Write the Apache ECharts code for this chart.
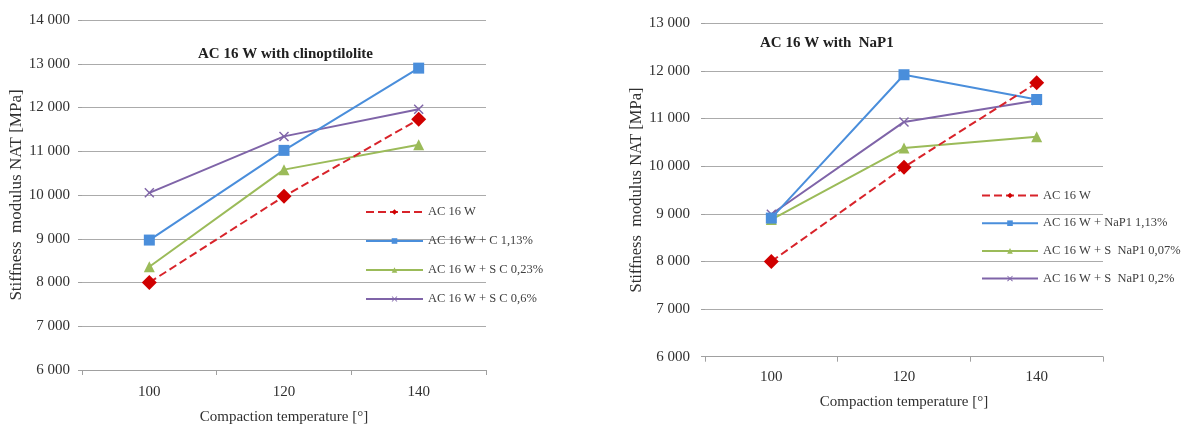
<!DOCTYPE html>
<html>
<head>
<meta charset="utf-8">
<script src="https://cdn.jsdelivr.net/npm/echarts@6/dist/echarts.min.js"></script>
<style>html,body{margin:0;padding:0;background:#fff}#c{width:1184px;height:428px}</style>
</head>
<body>
<div id="c"></div>
<script>
const categories = ['100', '120', '140'];
const yTicksLeft = [6000, 14000, 1000];
const yTicksRight = [6000, 13000, 1000];

const leftNames = ['AC 16 W', 'AC 16 W + C 1,13%', 'AC 16 W + S C 0,23%', 'AC 16 W + S C 0,6%'];
const leftRed = [8000, 9970, 11730];
const leftBlue = [8970, 11020, 12900];
const leftGreen = [8360, 10580, 11150];
const leftPurple = [10050, 11340, 11960];

const rightNames = ['AC 16 W', 'AC 16 W + NaP1 1,13%', 'AC 16 W + S  NaP1 0,07%', 'AC 16 W + S  NaP1 0,2%'];
const rightRed = [8000, 9980, 11750];
const rightBlue = [8910, 11920, 11400];
const rightGreen = [8880, 10380, 10620];
const rightPurple = [8990, 10930, 11380];

const FONT = 'Liberation Serif';
const RED = '#d8232a', BLUE = '#4a8edb', GREEN = '#9bbb59', PURPLE = '#7f64a8';
const XSYM = 'path://M0,1 L1,0 L5,4 L9,0 L10,1 L6,5 L10,9 L9,10 L5,6 L1,10 L0,9 L4,5 Z';
const fmt = v => String(v).replace(/\B(?=(\d{3})+(?!\d))/g, ' ');

function mkSeries(names, data, xi) {
  const styles = [
    {color: RED, sym: 'diamond', size: 15, type: 'dashed', mc: '#d00000'},
    {color: BLUE, sym: 'rect', size: 11, type: 'solid', mc: BLUE},
    {color: GREEN, sym: 'triangle', size: 11, type: 'solid', mc: GREEN},
    {color: PURPLE, sym: XSYM, size: 10, type: 'solid', mc: PURPLE}
  ];
  return names.map((n, i) => ({
    name: n, type: 'line', xAxisIndex: xi, yAxisIndex: xi,
    data: data[i], symbol: styles[i].sym, symbolSize: styles[i].size, showAllSymbol: true,
    lineStyle: {color: styles[i].color, width: 2, type: styles[i].type},
    itemStyle: {color: styles[i].mc},
    z: 10 - i, animation: false
  }));
}

function xAxis(gi, nameGap, margin) {
  return {
    type: 'category', gridIndex: gi, data: categories, boundaryGap: true,
    name: 'Compaction temperature [°]', nameLocation: 'middle', nameGap: nameGap,
    nameTextStyle: {fontFamily: FONT, fontSize: 15, color: '#303030'},
    axisLine: {show: true, lineStyle: {color: '#a0a0a0', width: 1}},
    axisTick: {show: true, length: 5, lineStyle: {color: '#a0a0a0'}},
    axisLabel: {fontFamily: FONT, fontSize: 15, color: '#303030', margin: margin},
    splitLine: {show: false}
  };
}
function yAxis(gi, t, nameGap, nameSize, margin) {
  return {
    type: 'value', gridIndex: gi, min: t[0], max: t[1], interval: t[2],
    name: 'Stiffness  modulus NAT [MPa]', nameLocation: 'middle', nameGap: nameGap, nameRotate: 90,
    nameTextStyle: {fontFamily: FONT, fontSize: nameSize, color: '#303030'},
    axisLine: {show: false},
    axisTick: {show: true, length: 4, lineStyle: {color: '#a0a0a0'}},
    axisLabel: {fontFamily: FONT, fontSize: 15, color: '#303030', margin: margin, formatter: fmt},
    splitLine: {show: true, lineStyle: {color: '#ababab', width: 1}}
  };
}
function legend(names, left, top, gap, w) {
  return {
    data: names, orient: 'vertical', left: left, top: top, itemGap: gap,
    itemWidth: w, itemHeight: 7, padding: 0, selectedMode: false,
    textStyle: {fontFamily: FONT, fontSize: 12.5, color: '#404040'}
  };
}

const chart = echarts.init(document.getElementById('c'), null, {renderer: 'canvas'});
chart.setOption({
  animation: false,
  backgroundColor: '#ffffff',
  title: [
    {text: 'AC 16 W with clinoptilolite', left: 198, top: 47, padding: 0,
     textStyle: {fontFamily: FONT, fontSize: 15, fontWeight: 'bold', color: '#202020'}},
    {text: 'AC 16 W with  NaP1', left: 760, top: 36, padding: 0,
     textStyle: {fontFamily: FONT, fontSize: 15, fontWeight: 'bold', color: '#202020'}}
  ],
  grid: [
    {left: 82, top: 20, width: 404, height: 350, outerBoundsMode: 'none', containLabel: false},
    {left: 705, top: 23.3, width: 398, height: 333.4, outerBoundsMode: 'none', containLabel: false}
  ],
  xAxis: [xAxis(0, 40, 14.5), xAxis(1, 38, 13)],
  yAxis: [yAxis(0, yTicksLeft, 56.5, 17, 12), yAxis(1, yTicksRight, 59, 16.5, 15)],
  legend: [
    legend(leftNames, 365, 205.5, 16, 57),
    legend(rightNames, 981, 189, 14.7, 56)
  ],
  series: [
    ...mkSeries(leftNames, [leftRed, leftBlue, leftGreen, leftPurple], 0),
    ...mkSeries(rightNames, [rightRed, rightBlue, rightGreen, rightPurple], 1)
  ]
});
</script>
</body>
</html>
